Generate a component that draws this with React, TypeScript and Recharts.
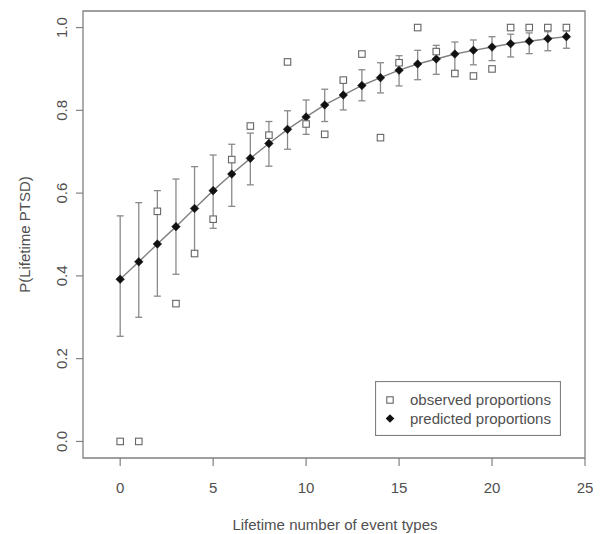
import React from 'react';
import {
  ComposedChart,
  Line,
  XAxis,
  YAxis,
  ErrorBar,
  ReferenceArea,
  Legend,
  Customized,
} from 'recharts';

const eventTypes = [0, 1, 2, 3, 4, 5, 6, 7, 8, 9, 10, 11, 12, 13, 14, 15, 16, 17, 18, 19, 20, 21, 22, 23, 24];
const observed = [0, 0, 0.556, 0.333, 0.454, 0.537, 0.681, 0.762, 0.74, 0.917, 0.767, 0.742, 0.873, 0.936, 0.734, 0.915, 1.0, 0.942, 0.889, 0.883, 0.9, 1.0, 1.0, 1.0, 1.0];
const predicted = [0.392, 0.434, 0.477, 0.519, 0.563, 0.606, 0.646, 0.684, 0.72, 0.754, 0.784, 0.813, 0.837, 0.86, 0.879, 0.897, 0.912, 0.924, 0.936, 0.945, 0.953, 0.961, 0.967, 0.973, 0.978];
const lowerCI = [0.254, 0.3, 0.351, 0.404, 0.458, 0.515, 0.568, 0.62, 0.665, 0.706, 0.742, 0.773, 0.801, 0.823, 0.842, 0.859, 0.874, 0.887, 0.895, 0.91, 0.92, 0.929, 0.937, 0.944, 0.95];
const upperCI = [0.545, 0.577, 0.606, 0.634, 0.664, 0.692, 0.718, 0.745, 0.773, 0.799, 0.825, 0.851, 0.873, 0.898, 0.915, 0.932, 0.945, 0.957, 0.965, 0.97, 0.978, 0.984, 0.987, 0.99, 0.992];
const xTicks = [0, 5, 10, 15, 20, 25];
const yTicks = [0, 0.2, 0.4, 0.6, 0.8, 1.0];

const data = eventTypes.map((x, i) => ({
  x,
  obs: observed[i],
  pred: predicted[i],
  err: [predicted[i] - lowerCI[i], upperCI[i] - predicted[i]],
}));

const GREY = '#808080';
const TEXT = '#505050';
const FONT = '"Liberation Sans", Arial, sans-serif';

const SquareDot = (props: any) => {
  const { cx, cy } = props;
  if (cx == null || cy == null) return null;
  const s = 6.5;
  return <rect x={cx - s / 2} y={cy - s / 2} width={s} height={s} fill="#fff" stroke="#666" strokeWidth={1.1} />;
};

const DiamondDot = (props: any) => {
  const { cx, cy } = props;
  if (cx == null || cy == null) return null;
  const h = 4.3;
  return <polygon points={`${cx},${cy - h} ${cx + h},${cy} ${cx},${cy + h} ${cx - h},${cy}`} fill="#111" stroke="#111" strokeWidth={0.5} />;
};

const YTick = (props: any) => {
  const { y, payload } = props;
  return (
    <text x={59} y={y} transform={`rotate(-90 59 ${y})`} textAnchor="middle" fill={TEXT} fontSize={15} fontFamily={FONT}>
      {Number(payload.value).toFixed(1)}
    </text>
  );
};

const XTick = (props: any) => {
  const { x, payload } = props;
  return (
    <text x={x} y={485} textAnchor="middle" fill={TEXT} fontSize={15} fontFamily={FONT}>
      {payload.value}
    </text>
  );
};

const LegendBox = (props: any) => {
  const items = (props.payload || []).filter((p: any) => p.value);
  return (
    <svg width={186} height={55} style={{ display: 'block' }}>
      <rect x={0.5} y={0.5} width={185} height={54} fill="#fff" stroke={GREY} strokeWidth={1.2} />
      {items.map((p: any, i: number) => {
        const cy = 19 + i * 18.5;
        return (
          <g key={p.value}>
            {i === 0 ? (
              <rect x={15 - 3.2} y={cy - 3.2} width={6.4} height={6.4} fill="#fff" stroke="#666" strokeWidth={1.1} />
            ) : (
              <polygon points={`15,${cy - 4.3} ${19.3},${cy} 15,${cy + 4.3} ${10.7},${cy}`} fill="#111" />
            )}
            <text x={35} y={cy + 5} fill={TEXT} fontSize={15} fontFamily={FONT}>
              {p.value}
            </text>
          </g>
        );
      })}
    </svg>
  );
};

const Titles = () => (
  <g>
    <text x={327} y={522} textAnchor="middle" fill={TEXT} fontSize={15} fontFamily={FONT}>
      Lifetime number of event types
    </text>
    <text x={22} y={226.5} transform="rotate(-90 22 226.5)" textAnchor="middle" fill={TEXT} fontSize={15} fontFamily={FONT}>
      P(Lifetime PTSD)
    </text>
  </g>
);

export default function App() {
  return (
    <div style={{ position: 'relative', width: 585, height: 526, background: '#fff' }}>
      <ComposedChart width={585} height={526} data={data} margin={{ top: 3, right: 8, bottom: 16, left: 0 }}>
        <XAxis
          type="number"
          dataKey="x"
          domain={[-2, 25]}
          ticks={xTicks}
          allowDataOverflow
          axisLine={false}
          tickLine={{ stroke: GREY, strokeWidth: 1.2 }}
          tickSize={8}
          height={60}
          tick={<XTick />}
        />
        <YAxis
          type="number"
          domain={[-0.04, 1.04]}
          ticks={yTicks}
          allowDataOverflow
          axisLine={false}
          tickLine={{ stroke: GREY, strokeWidth: 1.2 }}
          tickSize={7}
          width={75}
          tick={<YTick />}
        />
        <ReferenceArea x1={-2} x2={25} y1={-0.04} y2={1.04} fill="none" stroke={GREY} strokeWidth={1.3} fillOpacity={0} />
        <Line
          dataKey="pred"
          name="predicted proportions"
          stroke={GREY}
          strokeWidth={1.4}
          dot={<DiamondDot />}
          activeDot={false}
          isAnimationActive={false}
        >
          <ErrorBar dataKey="err" direction="y" width={3.5} stroke="#8a8a8a" strokeWidth={1.3} />
        </Line>
        <Line
          dataKey="obs"
          name="observed proportions"
          stroke="none"
          dot={<SquareDot />}
          activeDot={false}
          isAnimationActive={false}
        />
        <Legend
          layout="horizontal"
          verticalAlign="middle"
          align="center"
          payload={[
            { value: 'observed proportions', type: 'square', id: 'obs', color: '#666' },
            { value: 'predicted proportions', type: 'diamond', id: 'pred', color: '#111' },
          ]}
          content={<LegendBox />}
          wrapperStyle={{ position: 'absolute', left: 367, top: 373, width: 186, height: 55 }}
        />
        <Customized component={Titles} />
      </ComposedChart>
    </div>
  );
}
